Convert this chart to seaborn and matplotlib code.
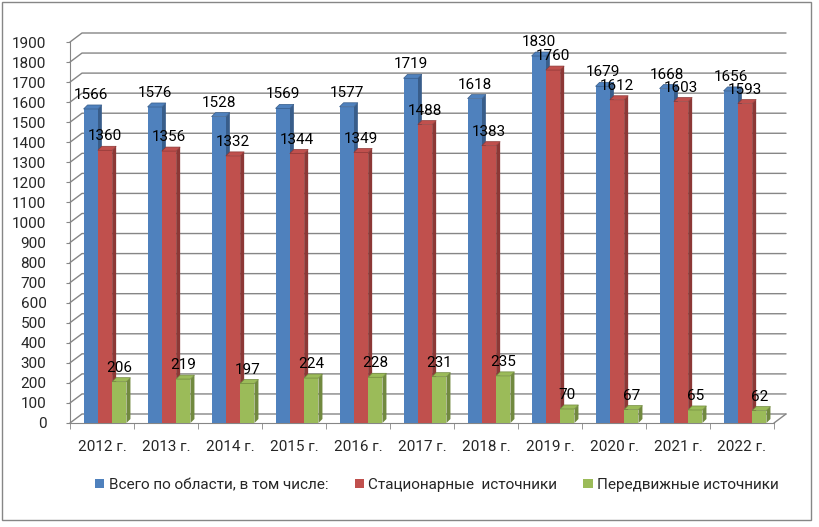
import matplotlib
matplotlib.use("Agg")
import numpy as np
import pandas as pd
import matplotlib.pyplot as plt
import seaborn as sns
from matplotlib.patches import Polygon, Rectangle

# data
years = ["2012 г.", "2013 г.", "2014 г.", "2015 г.", "2016 г.", "2017 г.",
         "2018 г.", "2019 г.", "2020 г.", "2021 г.", "2022 г."]
total = [1566, 1576, 1528, 1569, 1577, 1719, 1618, 1830, 1679, 1668, 1656]
stationary = [1360, 1356, 1332, 1344, 1349, 1488, 1383, 1760, 1612, 1603, 1593]
mobile = [206, 219, 197, 224, 228, 231, 235, 70, 67, 65, 62]
series_names = ["Всего по области, в том числе:", "Стационарные  источники",
                "Передвижные источники"]
y_ticks = list(range(0, 2000, 100))

colors = ["#4F81BD", "#C0504D", "#9BBB59"]
side_colors = ["#385D8A", "#8C3836", "#71893F"]
grid_col = "#868686"

df = pd.DataFrame({
    "year": years * 3,
    "value": total + stationary + mobile,
    "series": [series_names[0]] * 11 + [series_names[1]] * 11 + [series_names[2]] * 11,
})

sns.set_style("white")
plt.rcParams["font.family"] = ["Roboto", "DejaVu Sans"]
FS = 11

W, H = 820, 527
fig = plt.figure(figsize=(W / 100, H / 100), dpi=100)
ax_l, ax_r, ax_t, ax_b = 70, 774, 42, 423
ax = fig.add_axes([ax_l / W, 1 - ax_b / H, (ax_r - ax_l) / W, (ax_b - ax_t) / H])

sns.barplot(data=df, x="year", y="value", hue="series", palette=colors,
            saturation=1, width=0.67, ax=ax, linewidth=0)

ax.set_xlim(-0.5, len(years) - 0.5)
ax.set_ylim(0, 1900)
xmin, xmax = ax.get_xlim()

# pixel -> data scale
ppx = (ax_r - ax_l) / (xmax - xmin)
ppy = (ax_b - ax_t) / 1900.0

# back wall gridlines (pseudo 3D)
gdx, gdy = 12 / ppx, 9 / ppy
for yv in y_ticks:
    ax.plot([xmin, xmin + gdx, xmax + gdx], [yv, yv + gdy, yv + gdy],
            color=grid_col, lw=1, clip_on=False, zorder=0.5)
ax.plot([xmax, xmax + gdx], [0, gdy], color=grid_col, lw=1, clip_on=False, zorder=0.5)

# bar depth, bars sit a little into the floor
bdx, bdy = 4 / ppx, 4 / ppy
shift = 3 / ppx
for i, cont in enumerate(ax.containers):
    for bar, val in zip(cont.patches, [total, stationary, mobile][i]):
        bar.set_x(bar.get_x() + shift)
        x0 = bar.get_x()
        x1 = x0 + bar.get_width()
        h = bar.get_height()
        bar.set_zorder(3 + i * 0.1 + 0.05)
        side = Polygon([(x1, 0), (x1 + bdx, bdy), (x1 + bdx, h + bdy), (x1, h)],
                       closed=True, facecolor=side_colors[i], edgecolor="none",
                       zorder=3 + i * 0.1)
        top = Polygon([(x0, h), (x0 + bdx, h + bdy), (x1 + bdx, h + bdy), (x1, h)],
                      closed=True, facecolor=colors[i], edgecolor=side_colors[i],
                      lw=0.5, zorder=3 + i * 0.1 + 0.06)
        ax.add_patch(side)
        ax.add_patch(top)
        ax.annotate(str(val), (x0 + bar.get_width() / 2, h), xytext=(0, 5),
                    textcoords="offset points", ha="center", va="bottom",
                    fontsize=FS, color="black", zorder=10)

# axes styling
for s in ["top", "right"]:
    ax.spines[s].set_visible(False)
ax.spines["left"].set_color(grid_col)
ax.spines["bottom"].set_color(grid_col)
ax.set_yticks(y_ticks)
ax.tick_params(axis="y", length=3, color=grid_col, pad=14, labelsize=FS, left=True)
ax.set_xticks(range(len(years)))
ax.set_xticklabels(years)
ax.set_xticks(np.arange(-0.5, len(years), 1), minor=True)
ax.tick_params(axis="x", which="major", length=0, pad=12, labelsize=FS)
ax.tick_params(axis="x", which="minor", length=4, color=grid_col, bottom=True)
ax.set_xlabel("")
ax.set_ylabel("")

sns.move_legend(ax, "center", bbox_to_anchor=(0.533, 0.08),
                bbox_transform=fig.transFigure, ncol=3, frameon=False, title=None,
                fontsize=FS, handlelength=0.6, handleheight=0.6, handletextpad=0.3,
                columnspacing=1.7)

# chart border
fig.patches.append(Rectangle((2 / W, 1 - 520 / H), 809 / W, 518 / H,
                             transform=fig.transFigure, fill=False,
                             edgecolor=grid_col, lw=1))

fig.savefig("out.png", dpi=100)
